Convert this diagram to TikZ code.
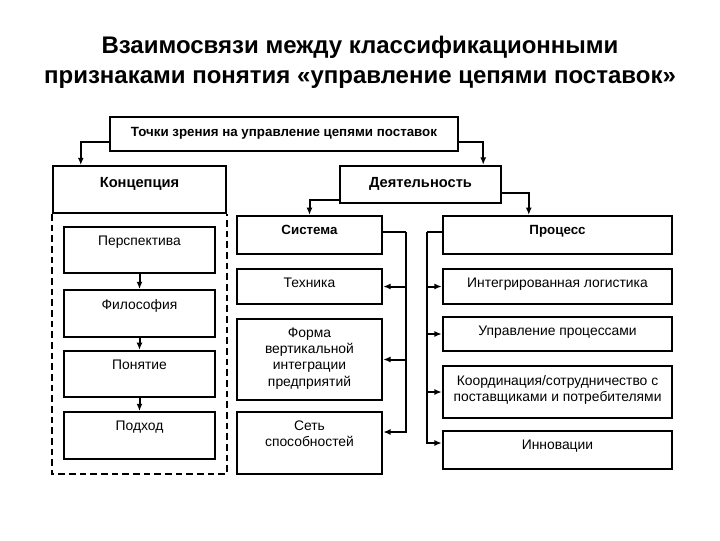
\documentclass[tikz,border=0pt]{standalone}
\usepackage{fontspec}
\setmainfont{Liberation Sans}
\usetikzlibrary{arrows.meta,calc,positioning}
\tikzset{
	box/.style={draw, line width=1.6pt, inner sep=0pt},
	txt/.style={anchor=north, yshift=-4pt, align=center, font=\fontsize{10.4}{12.2}\selectfont},
	arr/.style={-{Latex[length=5.5pt,width=4.5pt]}, line width=1.5pt},
	lin/.style={line width=1.5pt}
}
\begin{document}
\begin{tikzpicture}[x=0.75pt,y=-0.75pt]
		\useasboundingbox (0,0) rectangle (720,540);
		\node[font=\bfseries\fontsize{18}{22.5}\selectfont, align=center] (title) at (360,62)
		{Взаимосвязи между классификационными\\признаками понятия «управление цепями поставок»};
		% top level
		\node[box, line width=1.1pt, minimum width=261pt, minimum height=25.5pt,
		label={[txt, yshift=-1pt, font=\bfseries\fontsize{10}{11}\selectfont]north:Точки зрения на управление цепями поставок}] (top) at (284,134) {};
		\node[box, minimum width=130pt, minimum height=35pt,
		label={[txt, yshift=-2pt, font=\bfseries\fontsize{11}{12}\selectfont]north:Концепция}] (konc) at (139.5,189.5) {};
		\node[box, minimum width=121pt, minimum height=28pt,
		label={[txt, yshift=-2pt, font=\bfseries\fontsize{11}{12}\selectfont]north:Деятельность}] (deyat) at (420.5,184.5) {};
		% concept column
		\node[box, minimum width=113pt, minimum height=34.5pt, label={[txt]north:Перспектива}] (persp) at (139.5,250) {};
		\node[box, minimum width=113pt, minimum height=35pt, label={[txt]north:Философия}] (filos) at (139.5,313.5) {};
		\node[box, minimum width=113pt, minimum height=34.5pt, label={[txt]north:Понятие}] (ponyat) at (139.5,374) {};
		\node[box, minimum width=113pt, minimum height=35pt, label={[txt]north:Подход}] (podhod) at (139.5,435.5) {};
		% system column
		\node[box, minimum width=109pt, minimum height=28.5pt, label={[txt, font=\bfseries\fontsize{10}{11}\selectfont]north:Система}] (sys) at (309.5,235) {};
		\node[box, minimum width=109pt, minimum height=26pt, label={[txt]north:Техника}] (tech) at (309.5,286.5) {};
		\node[box, minimum width=109pt, minimum height=61pt, label={[txt]north:Форма\\вертикальной\\интеграции\\предприятий}] (forma) at (309.5,359.5) {};
		\node[box, minimum width=109pt, minimum height=46.5pt, label={[txt]north:Сеть\\способностей}] (set) at (309.5,443) {};
		% process column
		\node[box, minimum width=172pt, minimum height=28.5pt, label={[txt, font=\bfseries\fontsize{10}{11}\selectfont]north:Процесс}] (proc) at (557.5,235) {};
		\node[box, minimum width=172pt, minimum height=26pt, label={[txt]north:Интегрированная логистика}] (integ) at (557.5,286.5) {};
		\node[box, minimum width=172pt, minimum height=25.5pt, label={[txt]north:Управление процессами}] (upr) at (557.5,334) {};
		\node[box, minimum width=172pt, minimum height=39pt, label={[txt]north:Координация/сотрудничество с\\поставщиками и потребителями}] (koord) at (557.5,392) {};
		\node[box, minimum width=172pt, minimum height=28.5pt, label={[txt]north:Инновации}] (innov) at (557.5,450) {};
		% connectors
		\draw[arr] ($(top.west)+(0,8)$) -| ($(konc.north west)+(29,0)$);
		\draw[arr] ($(top.east)+(0,8)$) -| ($(deyat.north east)+(-19,0)$);
		\draw[arr] ($(deyat.west)+(0,15)$) -| (sys.north);
		\draw[arr] ($(deyat.east)+(0,8)$) -| ($(proc.north west)+(87,0)$);
		\draw[line width=1.4pt, dash pattern=on 5pt off 3pt] (konc.south west) |- ($(konc.south east)+(0,260)$) -- (konc.south east);
		\draw[arr] (persp) -- (filos);
		\draw[arr] (filos) -- (ponyat);
		\draw[arr] (ponyat) -- (podhod);
		% system bracket
		\coordinate (sb) at ($(sys.east)+(23,-3)$);
		\draw[lin] ($(sys.east)+(0,-3)$) -- (sb);
		\draw[arr] (sb) |- ($(set.east)+(0,-11)$);
		\draw[arr] (sb |- tech.east) -- (tech.east);
		\draw[arr] (sb |- forma.east) -- (forma.east);
		% process bracket
		\coordinate (pb) at ($(proc.west)+(-15,-3)$);
		\draw[lin] ($(proc.west)+(0,-3)$) -- (pb);
		\draw[arr] (pb) |- ($(innov.west)+(0,-7)$);
		\draw[arr] (pb |- integ.west) -- (integ.west);
		\draw[arr] (pb |- upr.west) -- (upr.west);
		\draw[arr] (pb |- koord.west) -- (koord.west);
		\end{tikzpicture}
\end{document}
